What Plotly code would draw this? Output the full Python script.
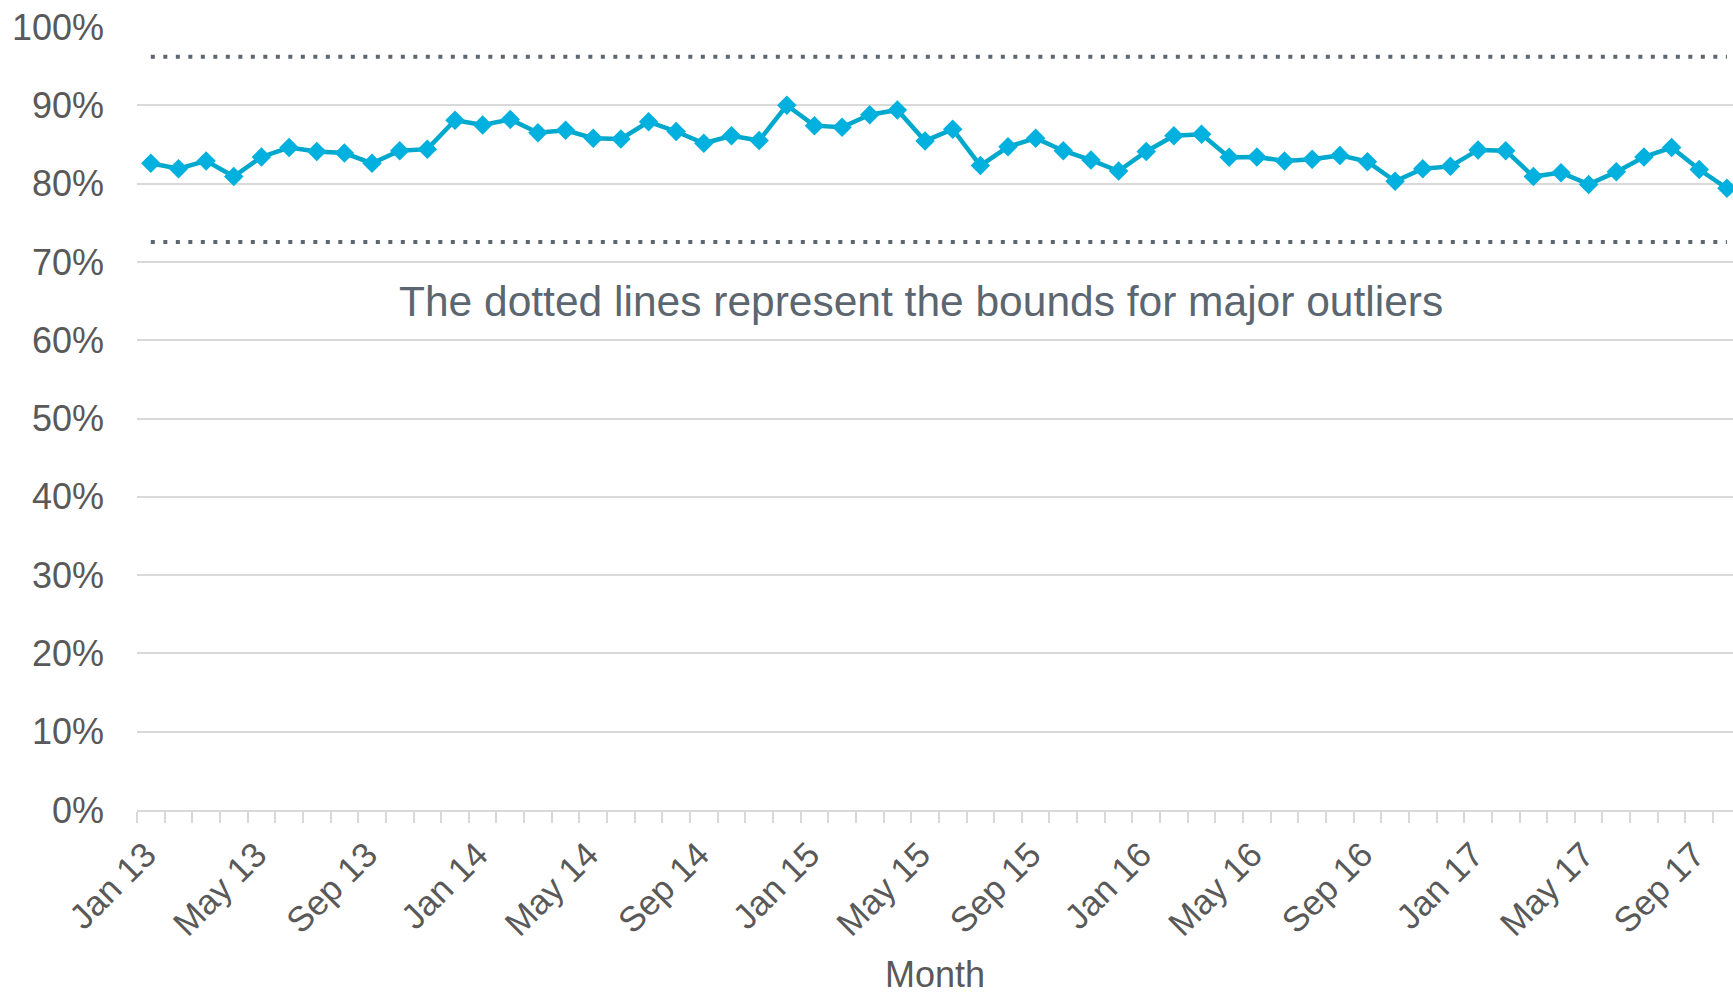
import plotly.graph_objects as go

# ---- data ----
months = [f"{m} {y}" for y in ["13", "14", "15", "16", "17"]
          for m in ["Jan", "Feb", "Mar", "Apr", "May", "Jun",
                    "Jul", "Aug", "Sep", "Oct", "Nov", "Dec"]][:58]
values = [82.6, 81.9, 82.9, 80.9, 83.4, 84.6, 84.1, 83.9, 82.6, 84.2, 84.4, 88.1,
          87.5, 88.2, 86.5, 86.8, 85.8, 85.7, 87.9, 86.65, 85.15, 86.1, 85.5, 90.0,
          87.4, 87.2, 88.8, 89.4, 85.45, 86.95, 82.3, 84.7, 85.8, 84.2, 83.0, 81.6,
          84.1, 86.1, 86.3, 83.35, 83.4, 82.9, 83.1, 83.6, 82.8, 80.3, 81.9, 82.2,
          84.3, 84.2, 80.9, 81.4, 79.9, 81.5, 83.4, 84.6, 81.8, 79.4]
upper_bound = 96.2
lower_bound = 72.55
ytick_vals = [0, 10, 20, 30, 40, 50, 60, 70, 80, 90, 100]
ytick_text = [f"{v}%" for v in ytick_vals]
xtick_text = [m if i % 4 == 0 else "" for i, m in enumerate(months)]
note = "The dotted lines represent the bounds for major outliers"

TEXT = "#595959"
FONT = "Liberation Sans, Arial, sans-serif"

fig = go.Figure()
for b in [upper_bound, lower_bound]:
    fig.add_trace(go.Scatter(
        x=[months[0], months[-1]], y=[b, b], mode="lines",
        line=dict(color="#5B6670", width=4, dash="4px,8.5px"),
        hoverinfo="skip", showlegend=False))

fig.add_trace(go.Scatter(
    x=months, y=values, mode="lines+markers",
    line=dict(color="#00A8CC", width=4.5),
    marker=dict(symbol="diamond", size=15, color="#00B0DE",
                line=dict(width=0)),
    showlegend=False))

fig.add_annotation(
    x=0.491, xref="paper", y=64.9, yref="y", text=note, showarrow=False,
    xanchor="center", yanchor="middle",
    font=dict(family=FONT, size=42.5, color="#5B6670"))

fig.update_layout(
    width=1733, height=995,
    margin=dict(l=137, r=0, t=27, b=185, autoexpand=False),
    paper_bgcolor="white", plot_bgcolor="white",
    font=dict(family=FONT, size=34, color=TEXT),
    xaxis=dict(
        type="category", categoryorder="array", categoryarray=months,
        range=[-0.5, 57.22], automargin=False,
        tickmode="array", tickvals=months, ticktext=xtick_text,
        tickson="boundaries", ticks="outside", ticklen=11,
        tickcolor="#D9D9D9", tickwidth=2,
        tickangle=-45, tickfont=dict(family=FONT, size=35, color=TEXT),
        ticklabelstandoff=8, ticklabelshift=-5,
        showgrid=False, showline=True, linecolor="#D9D9D9", linewidth=2,
        zeroline=False,
        title=dict(text="Month", font=dict(family=FONT, size=36, color=TEXT),
                   standoff=24),
    ),
    yaxis=dict(
        range=[0, 100], tickmode="array", tickvals=ytick_vals,
        ticktext=ytick_text, showgrid=True, gridcolor="#D9D9D9", gridwidth=2,
        zeroline=False, showline=False, ticks="", automargin=False,
        tickfont=dict(family=FONT, size=36, color=TEXT),
        ticklabelstandoff=32,
    ),
)

fig.write_html(
    "out.html",
    config={"displayModeBar": False},
    post_script="document.body.style.margin='0';document.body.style.overflow='hidden';",
)
